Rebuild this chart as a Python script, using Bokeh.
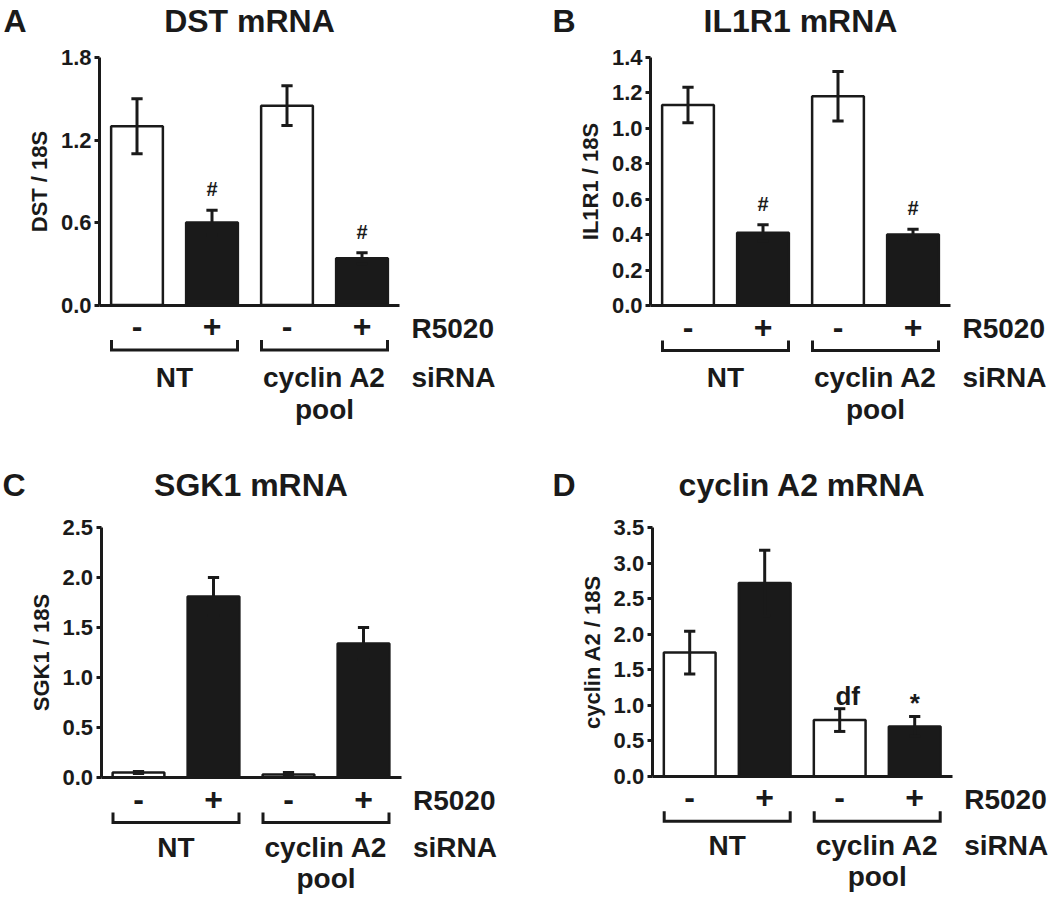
from bokeh.plotting import figure
from bokeh.models import (Range1d, LinearAxis, FixedTicker, PrintfTickFormatter,
                          Label, ColumnDataSource)
from bokeh.layouts import column, row
from bokeh.embed import file_html
from bokeh.resources import INLINE

# ---------------- data ----------------
r5020 = ["-", "+", "-", "+"]
sirna_groups = ["NT", "cyclin A2", "pool"]

dst_mean = [1.30, 0.60, 1.45, 0.34]
dst_err = [0.20, 0.09, 0.145, 0.04]
dst_marks = ["", "#", "", "#"]
dst_ticks = [0.0, 0.6, 1.2, 1.8]

il1r1_mean = [1.13, 0.41, 1.18, 0.40]
il1r1_err = [0.10, 0.045, 0.14, 0.03]
il1r1_marks = ["", "#", "", "#"]
il1r1_ticks = [0.0, 0.2, 0.4, 0.6, 0.8, 1.0, 1.2, 1.4]

sgk1_mean = [0.05, 1.81, 0.03, 1.34]
sgk1_err = [0.01, 0.19, 0.02, 0.16]
sgk1_marks = ["", "", "", ""]
sgk1_ticks = [0.0, 0.5, 1.0, 1.5, 2.0, 2.5]

ccna2_mean = [1.74, 2.72, 0.79, 0.70]
ccna2_err = [0.30, 0.46, 0.16, 0.14]
ccna2_marks = ["", "", "df", "*"]
ccna2_ticks = [0.0, 0.5, 1.0, 1.5, 2.0, 2.5, 3.0, 3.5]

# ---------------- style ----------------
FONT = "Liberation Sans"
INK = "#1a1a1a"
PX = 75.0          # pixels per bar slot
BAR_W = 0.69
CAP = 0.075


def lab(p, x, y, text, size, align="center", xo=0, yo=0):
    p.add_layout(Label(x=x, y=y, text=text, text_font=FONT, text_font_style="bold",
                       text_font_size=f"{size}px", text_align=align,
                       text_baseline="middle", text_color=INK,
                       x_offset=xo, y_offset=yo))


def make_panel(letter, title, ylabel, means, errs, marks, yticks,
               W, H, axis_px, top_px, zero_px, title_c, letter_px, nt_c, pool_c):
    ymax = yticks[-1]
    s = ymax / (zero_px - top_px)
    y1 = ymax + top_px * s
    y0 = y1 - H * s
    x0 = 0.5 - axis_px / PX
    x1 = x0 + W / PX

    p = figure(frame_width=W, frame_height=H,
               x_range=Range1d(x0, x1), y_range=Range1d(y0, y1),
               x_axis_location=None, y_axis_location=None,
               toolbar_location=None, output_backend="svg",
               min_border_left=0, min_border_right=0,
               min_border_top=0, min_border_bottom=0,
               outline_line_color=None, background_fill_color="white",
               border_fill_color="white")
    p.grid.visible = False

    xs = list(range(1, len(means) + 1))
    fills = ["white" if c == "-" else INK for c in r5020]
    src = ColumnDataSource(dict(
        x=xs, top=means,
        lo=[m - e for m, e in zip(means, errs)],
        hi=[m + e for m, e in zip(means, errs)],
        cl=[x - CAP for x in xs], cr=[x + CAP for x in xs],
        fill=fills))

    p.vbar(x="x", top="top", bottom=0, width=BAR_W, fill_color="fill",
           line_color=INK, line_width=2.5, source=src)
    p.segment(x0="x", y0="lo", x1="x", y1="hi", line_color=INK, line_width=3, source=src)
    p.segment(x0="cl", y0="hi", x1="cr", y1="hi", line_color=INK, line_width=3, source=src)
    p.segment(x0="cl", y0="lo", x1="cr", y1="lo", line_color=INK, line_width=3, source=src)

    # y axis
    yax = LinearAxis(fixed_location=0.5, bounds=(0, ymax),
                     ticker=FixedTicker(ticks=yticks),
                     formatter=PrintfTickFormatter(format="%.1f"),
                     axis_label=ylabel)
    yax.axis_line_width = 3
    yax.axis_line_color = INK
    yax.major_tick_line_width = 3
    yax.major_tick_line_color = INK
    yax.major_tick_in = 0
    yax.major_tick_out = 5
    yax.minor_tick_line_color = None
    yax.major_label_standoff = 3
    yax.major_label_text_font = FONT
    yax.major_label_text_font_style = "bold"
    yax.major_label_text_font_size = "22px"
    yax.major_label_text_color = INK
    yax.axis_label_text_font = FONT
    yax.axis_label_text_font_style = "bold"
    yax.axis_label_text_font_size = "22px"
    yax.axis_label_text_color = INK
    yax.axis_label_standoff = 6
    p.add_layout(yax, "left")

    # x axis (baseline with R5020 -/+ labels)
    xax = LinearAxis(fixed_location=0, bounds=(0.5, len(means) + 0.5),
                     ticker=FixedTicker(ticks=xs))
    xax.major_label_overrides = {x: c for x, c in zip(xs, r5020)}
    xax.axis_line_width = 3
    xax.axis_line_color = INK
    xax.major_tick_line_color = None
    xax.major_tick_in = 0
    xax.major_tick_out = 0
    xax.minor_tick_line_color = None
    xax.major_label_standoff = 10
    xax.major_label_text_font = FONT
    xax.major_label_text_font_style = "bold"
    xax.major_label_text_font_size = "32px"
    xax.major_label_text_color = INK
    p.add_layout(xax, "below")

    # significance marks
    for x, h, m in zip(xs, src.data["hi"], marks):
        if m == "#":
            lab(p, x, h, m, 20, yo=21)
        elif m == "*":
            lab(p, x, h, m, 26, yo=14)
        elif m:
            lab(p, x, h, m, 26, xo=8, yo=13)

    # brackets for siRNA groups
    yt = -35 * s
    yb = -45 * s
    bxs = [[0.66, 0.66, 2.34, 2.34], [2.66, 2.66, 4.34, 4.34]]
    p.multi_line(xs=bxs, ys=[[yt, yb, yb, yt]] * 2, line_color=INK,
                 line_width=3, line_join="miter")

    # row / group labels
    lab(p, 4.66, 0, "R5020", 28, align="left", yo=-23)
    lab(p, 4.66, 0, "siRNA", 28, align="left", yo=-nt_c)
    lab(p, 1.5, 0, sirna_groups[0], 28, yo=-nt_c)
    lab(p, 3.5, 0, sirna_groups[1], 28, yo=-nt_c)
    lab(p, 3.5, 0, sirna_groups[2], 28, yo=-pool_c)

    # title and panel letter
    lab(p, 2.5, y1, title, 32, yo=-title_c)
    lab(p, x0 + letter_px / PX, y1, letter, 32, align="left", yo=-title_c)
    return p


W1, W2 = 540, 510
H1, H2 = 450, 447

pA = make_panel("A", "DST mRNA", "DST / 18S", dst_mean, dst_err, dst_marks, dst_ticks,
                W1, H1, 99, 57, 304.5, 20, 3, 72, 104)
pB = make_panel("B", "IL1R1 mRNA", "IL1R1 / 18S", il1r1_mean, il1r1_err, il1r1_marks,
                il1r1_ticks, W2, H1, 110, 56.7, 305, 20, 12, 72, 104)
pC = make_panel("C", "SGK1 mRNA", "SGK1 / 18S", sgk1_mean, sgk1_err, sgk1_marks, sgk1_ticks,
                W1, H2, 100.5, 77, 327, 34.5, 2, 69.5, 100.5)
pD = make_panel("D", "cyclin A2 mRNA", "cyclin A2 / 18S", ccna2_mean, ccna2_err, ccna2_marks,
                ccna2_ticks, W2, H2, 111.7, 77, 325.7, 34, 12, 69.5, 100.5)

layout = column(row(pA, pB), row(pC, pD))
open("out.html", "w").write(file_html(layout, INLINE))
